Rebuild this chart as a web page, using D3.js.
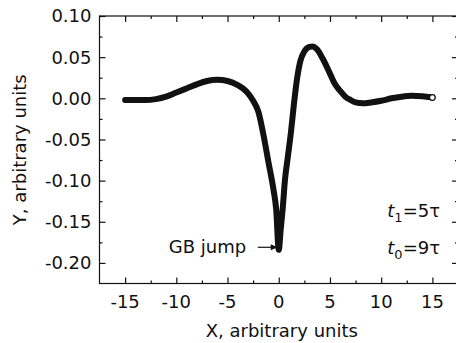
<!DOCTYPE html>
<html>
<head>
<meta charset="utf-8">
<script src="https://cdn.jsdelivr.net/npm/d3@7"></script>
<style>
  body { margin: 0; background: #fff; }
  text { font-family: "DejaVu Sans", sans-serif; fill: #111; }
</style>
</head>
<body>
<div id="chart"></div>
<script>
/* GB jump profile */

// curve samples
const xs = [-15, -14, -13, -12, -11, -10, -9, -8, -7, -6, -5, -4, -3.5, -3, -2.5, -2, -1.5, -1, -0.5, -0.25, 0,
            0.2, 0.4, 0.6, 0.9, 1.2, 1.5, 1.8, 2.1, 2.5, 3, 3.3, 3.7, 4.3, 5, 5.5, 6, 6.5, 7, 7.5, 8.2, 9, 10, 11, 12, 13, 14, 15];
const ys = [-0.002, -0.0022, -0.0022, -0.001, 0.002, 0.007, 0.012, 0.017, 0.021, 0.0225, 0.021, 0.016, 0.012, 0.006, -0.003, -0.016, -0.044, -0.078, -0.112, -0.135, -0.184,
            -0.158, -0.132, -0.1, -0.07, -0.04, -0.005, 0.025, 0.045, 0.057, 0.0625, 0.063, 0.06, 0.048, 0.03, 0.017, 0.009, 0.002, -0.002, -0.005, -0.006, -0.005, -0.003, 0, 0.002, 0.003, 0.0025, 0.001];

const xTicks = [-15, -10, -5, 0, 5, 10, 15];
const xMinor = [-12.5, -7.5, -2.5, 2.5, 7.5, 12.5];
const yTicks = [0.10, 0.05, 0.00, -0.05, -0.10, -0.15, -0.20];
const yMinor = [0.075, 0.025, -0.025, -0.075, -0.125, -0.175];

const width = 456, height = 343,
    margin = ({ top: 16, right: -2, bottom: 60, left: 99.5 });

const svg = d3.select("#chart")
    .append("svg")
    .attr("width", width)
    .attr("height", height);

const data = xs.map((x, i) => ({ x: x, y: ys[i] }));

let x = d3.scaleLinear()
    .domain([-17.5, 17.5])
    .range([margin.left, width - margin.right]);

let y = d3.scaleLinear()
    .domain([-0.225, 0.10])
    .range([height - margin.bottom + 0.5, margin.top]);

// frame
svg.append("rect")
    .attr("x", x(-17.5)).attr("y", y(0.10))
    .attr("width", x(17.5) - x(-17.5)).attr("height", y(-0.225) - y(0.10))
    .attr("fill", "none").attr("stroke", "#111").attr("stroke-width", 1.2);

// ticks point inward on all four sides
function tickAxis(axis, vals, size, tr) {
    const g = svg.append("g")
        .attr("transform", tr)
        .call(axis.tickValues(vals).tickSize(size).tickFormat(""));
    g.select(".domain").remove();
    g.selectAll("line").attr("stroke", "#111").attr("stroke-width", 1.2);
    return g;
}
const bottomY = y(-0.225), topY = y(0.10), leftX = x(-17.5), rightX = x(17.5);
tickAxis(d3.axisBottom(x), xTicks, -6, `translate(0,${bottomY})`);
tickAxis(d3.axisBottom(x), xMinor, -3, `translate(0,${bottomY})`);
tickAxis(d3.axisTop(x), xTicks, -6, `translate(0,${topY})`);
tickAxis(d3.axisTop(x), xMinor, -3, `translate(0,${topY})`);
tickAxis(d3.axisLeft(y), yTicks, -6, `translate(${leftX},0)`);
tickAxis(d3.axisLeft(y), yMinor, -3, `translate(${leftX},0)`);
tickAxis(d3.axisRight(y), yTicks, -6, `translate(${rightX},0)`);
tickAxis(d3.axisRight(y), yMinor, -3, `translate(${rightX},0)`);

// tick labels
svg.append("g").selectAll("text")
    .data(xTicks)
    .join("text")
    .attr("x", d => x(d))
    .attr("y", bottomY + 24)
    .attr("text-anchor", "middle")
    .attr("font-size", 18)
    .text(d => String(d));

svg.append("g").selectAll("text")
    .data(yTicks)
    .join("text")
    .attr("x", leftX - 8)
    .attr("y", d => y(d))
    .attr("dy", "0.36em")
    .attr("text-anchor", "end")
    .attr("font-size", 18)
    .text(d => d.toFixed(2));

// axis titles
svg.append("text")
    .attr("x", x(0.3))
    .attr("y", 337)
    .attr("text-anchor", "middle")
    .attr("font-size", 18)
    .text("X, arbitrary units");

svg.append("text")
    .attr("transform", `translate(26,${(topY + bottomY) / 2}) rotate(-90)`)
    .attr("text-anchor", "middle")
    .attr("font-size", 18)
    .text("Y, arbitrary units");

// the curve
let line = d3.line()
    .x(d => x(d.x))
    .y(d => y(d.y))
    .curve(d3.curveMonotoneX);

svg.append("path")
    .datum(data)
    .attr("d", line)
    .attr("fill", "none")
    .attr("stroke", "#111")
    .attr("stroke-width", 6)
    .attr("stroke-linecap", "round")
    .attr("stroke-linejoin", "round");

// last sample is an open circle
const last = data[data.length - 1];
svg.append("circle")
    .attr("cx", x(last.x)).attr("cy", y(last.y))
    .attr("r", 2.8)
    .attr("fill", "#fff").attr("stroke", "#111").attr("stroke-width", 1.2);

// annotation
const tipX = x(-0.1), tipY = y(-0.181);
svg.append("text")
    .attr("x", tipX - 109)
    .attr("y", tipY + 6)
    .attr("font-size", 18)
    .text("GB jump");
svg.append("line")
    .attr("x1", tipX - 20).attr("y1", tipY)
    .attr("x2", tipX - 5).attr("y2", tipY)
    .attr("stroke", "#111").attr("stroke-width", 1.2);
svg.append("path")
    .attr("d", `M${tipX},${tipY} L${tipX - 7},${tipY - 3} L${tipX - 7},${tipY + 3} Z`)
    .attr("fill", "#111");

const params = [["1", "5"], ["0", "9"]];
params.forEach((p, i) => {
    const t = svg.append("text")
        .attr("x", 440)
        .attr("y", 217 + i * 37)
        .attr("text-anchor", "end")
        .attr("font-size", 18);
    t.append("tspan").attr("font-style", "italic").text("t");
    t.append("tspan").attr("font-size", 13).attr("dy", 5).text(p[0]);
    t.append("tspan").attr("dy", -5).text("=" + p[1] + "τ");
});
</script>
</body>
</html>
